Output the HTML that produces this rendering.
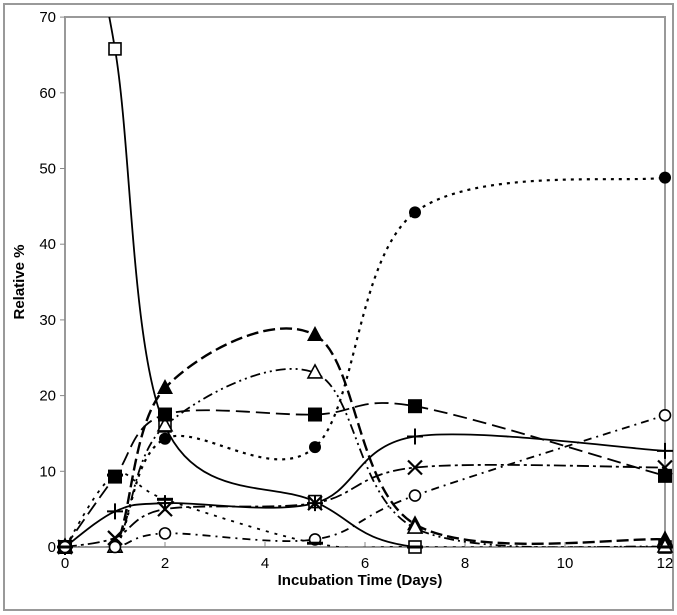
<!DOCTYPE html>
<html><head><meta charset="utf-8"><style>
body{margin:0;background:#fff;}
svg{display:block;font-family:"Liberation Sans",sans-serif;}
</style></head><body>
<svg id="chart" width="677" height="615">
<rect x="4" y="4" width="669" height="606" fill="#fff" stroke="#999" stroke-width="2"/>
<defs><clipPath id="pc"><rect x="65" y="17" width="600" height="530"/></clipPath></defs>
<rect x="65" y="17" width="600" height="530" fill="#fff" stroke="#999" stroke-width="2"/>
<g id="axes"></g>
<g id="series" clip-path="url(#pc)"></g>
<g id="marks"></g>
<text x="360" y="585" font-size="15" font-weight="bold" text-anchor="middle">Incubation Time (Days)</text>
<text transform="translate(24,282) rotate(-90)" font-size="15" font-weight="bold" text-anchor="middle">Relative %</text>
</svg>
<script>
const days=[0,1,2,5,7,12];
const xTicks=[0,2,4,6,8,10,12];
const yTicks=[0,10,20,30,40,50,60,70];
const sOpenSquare=[95,65.8,16,6,0,0];
const sFilledCircle=[0,0,14.3,13.2,44.2,48.8];
const sFilledTriangle=[0,0,21,28,3,1];
const sOpenTriangle=[0,0,16,23,2.5,0];
const sFilledSquare=[0,9.3,17.5,17.5,18.6,9.4];
const sPlus=[0,4.7,5.8,5.8,14.6,12.7];
const sCross=[0,1.2,5,5.8,10.5,10.5];
const sOpenCircle=[0,0,1.8,1,6.8,17.4];
const sDash=[0,9.5,6.3,0.5,0,0];
const NS="http://www.w3.org/2000/svg";
const X=d=>65+d*50;
const Y=v=>547-v*7.57;
function mk(tag,attrs,parent){const e=document.createElementNS(NS,tag);for(const k in attrs)e.setAttribute(k,attrs[k]);parent.appendChild(e);return e;}
const ax=document.getElementById('axes');
xTicks.forEach(t=>{
  const l=mk('line',{x1:X(t),x2:X(t),y1:542,y2:547,stroke:'#888'},ax);
  
  
  const tx=mk('text',{x:X(t),y:568,'font-size':15,'text-anchor':'middle'},ax);tx.textContent=t;
  
  
});
yTicks.forEach(t=>{
  const l=mk('line',{x1:60,x2:65,y1:Y(t),y2:Y(t),stroke:'#888'},ax);
  
  
  const tx=mk('text',{x:56,y:Y(t)+5,'font-size':15,'text-anchor':'end'},ax);tx.textContent=t;
  
  
});
function pathD(vals){
  const p=vals.map((v,i)=>[X(days[i]),Y(v)]);
  let d=`M${p[0][0]},${p[0][1]}`;
  for(let i=0;i<p.length-1;i++){
    const p0=p[Math.max(i-1,0)],p1=p[i],p2=p[i+1],p3=p[Math.min(i+2,p.length-1)];
    const t=1/6;
    d+=` C${p1[0]+(p2[0]-p0[0])*t},${p1[1]+(p2[1]-p0[1])*t} ${p2[0]-(p3[0]-p1[0])*t},${p2[1]-(p3[1]-p1[1])*t} ${p2[0]},${p2[1]}`;
  }
  return d;
}
const sg=document.getElementById('series'),mg=document.getElementById('marks');
function marker(type,x,y,g){
  const s=7;
  if(type==='osq')mk('rect',{x:x-s+1,y:y-s+1,width:2*s-2,height:2*s-2,fill:'#fff',stroke:'#000','stroke-width':1.6},g);
  else if(type==='fsq')mk('rect',{x:x-s,y:y-s,width:2*s,height:2*s,fill:'#000'},g);
  else if(type==='fci')mk('circle',{cx:x,cy:y,r:6,fill:'#000'},g);
  else if(type==='oci')mk('circle',{cx:x,cy:y,r:5.5,fill:'#fff',stroke:'#000','stroke-width':1.6},g);
  else if(type==='ftr')mk('path',{d:`M${x},${y-9}L${x+8},${y+6}L${x-8},${y+6}Z`,fill:'#000'},g);
  else if(type==='otr')mk('path',{d:`M${x},${y-8}L${x+7},${y+5}L${x-7},${y+5}Z`,fill:'#fff',stroke:'#000','stroke-width':1.6},g);
  else if(type==='plus')mk('path',{d:`M${x-8},${y}H${x+8}M${x},${y-8}V${y+8}`,stroke:'#000','stroke-width':2},g);
  else if(type==='x')mk('path',{d:`M${x-7},${y-7}L${x+7},${y+7}M${x+7},${y-7}L${x-7},${y+7}`,stroke:'#000','stroke-width':2.2},g);
  else if(type==='dash')mk('path',{d:`M${x-8},${y}H${x+8}`,stroke:'#000','stroke-width':3},g);
}
const series=[
 {name:'open-square',vals:sOpenSquare,dash:'',m:'osq',w:1.8},
 {name:'filled-circle',vals:sFilledCircle,dash:'3,5',m:'fci',w:2.2},
 {name:'filled-triangle',vals:sFilledTriangle,dash:'12,5',m:'ftr',w:2.4},
 {name:'open-triangle',vals:sOpenTriangle,dash:'10,4,2,4,2,4',m:'otr',w:1.8},
 {name:'filled-square',vals:sFilledSquare,dash:'14,6',m:'fsq',w:1.8},
 {name:'plus',vals:sPlus,dash:'',m:'plus',w:1.8},
 {name:'cross',vals:sCross,dash:'12,4,3,4',m:'x',w:1.8},
 {name:'open-circle',vals:sOpenCircle,dash:'8,5,2,5',m:'oci',w:1.8},
 {name:'dash-marker',vals:sDash,dash:'3,6',m:'dash',w:1.8}
];
series.forEach(s=>{
  const p=mk('path',{d:pathD(s.vals),fill:'none',stroke:'#000','stroke-width':s.w,'stroke-dasharray':s.dash},sg);
  
  
  s.vals.forEach((v,i)=>{
    if(v>70)return;
    const g=mk('g',{},mg);
    
    
    marker(s.m,X(days[i]),Y(v),g);
  });
});
</script>
</body></html>
